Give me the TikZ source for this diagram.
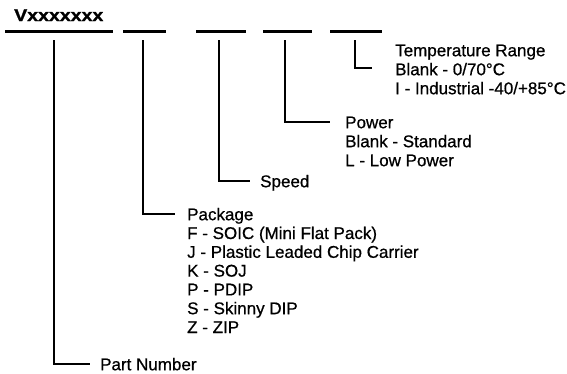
\documentclass[tikz,border=0pt]{standalone}
\usepackage{fontspec}
\setmainfont{Liberation Sans}
\newfontfamily\lblfont[FakeBold=0.7]{Liberation Sans}
\newfontfamily\ttlfont[FakeBold=1.2]{Liberation Sans Bold}
\begin{document}
\begin{tikzpicture}[x=1pt,y=-1pt,
  bar/.style={line width=3pt},
  conn/.style={line width=1.8pt},
  lbl/.style={inner sep=0pt, anchor=west, text height=12.4pt, text depth=0pt,
    font=\lblfont\fontsize{17}{19}\selectfont}]
\fill[white] (0,0) rectangle (567,373);
\useasboundingbox (0,0) rectangle (567,373);
% title
\node[inner sep=0pt, anchor=base west, font=\ttlfont\fontsize{17}{19}\selectfont] (title) at (14,21) {\scalebox{1.15}[1]{Vxxxxxxx}};
% bars
\coordinate (b1a) at (5,31);   \coordinate (b1b) at (113,31);
\coordinate (b2a) at (123,31); \coordinate (b2b) at (166,31);
\coordinate (b3a) at (196,31); \coordinate (b3b) at (246,31);
\coordinate (b4a) at (263,31); \coordinate (b4b) at (312,31);
\coordinate (b5a) at (330,31); \coordinate (b5b) at (382,31);
\foreach \i in {1,...,5} {\draw[bar] (b\i a) -- (b\i b);}
% vertical starts
\coordinate (v1) at (54,40);
\coordinate (v2) at (143,40);
\coordinate (v3) at (219,40);
\coordinate (v4) at (285,40);
\coordinate (v5) at (355,40);
% temperature
\node[lbl] (t0) at (395,50) {Temperature Range};
\node[lbl] (t1) at (395,69) {Blank - 0/70°C};
\node[lbl] (t2) at (395,88) {I - Industrial -40/+85°C};
\coordinate (e5) at (372,68);
\draw[conn] (v5) |- (e5);
% power
\node[lbl] (w0) at (345,122) {Power};
\node[lbl] (w1) at (345,141) {Blank - Standard};
\node[lbl] (w2) at (345,160) {L - Low Power};
\draw[conn] (v4) |- ([xshift=-15pt]w0.west);
% speed
\node[lbl] (s0) at (260,181) {Speed};
\draw[conn] (v3) |- ([xshift=-10pt]s0.west);
% package
\node[lbl] (p0) at (187,214) {Package};
\node[lbl] (p1) at (187,232.8) {F - SOIC (Mini Flat Pack)};
\node[lbl] (p2) at (187,251.6) {J - Plastic Leaded Chip Carrier};
\node[lbl] (p3) at (187,270.4) {K - SOJ};
\node[lbl] (p4) at (187,289.2) {P - PDIP};
\node[lbl] (p5) at (187,308) {S - Skinny DIP};
\node[lbl] (p6) at (187,326.8) {Z - ZIP};
\draw[conn] (v2) |- ([xshift=-12pt]p0.west);
% part number
\node[lbl] (n0) at (100,364) {Part Number};
\draw[conn] (v1) |- ([xshift=-10pt]n0.west);
\end{tikzpicture}
\end{document}
